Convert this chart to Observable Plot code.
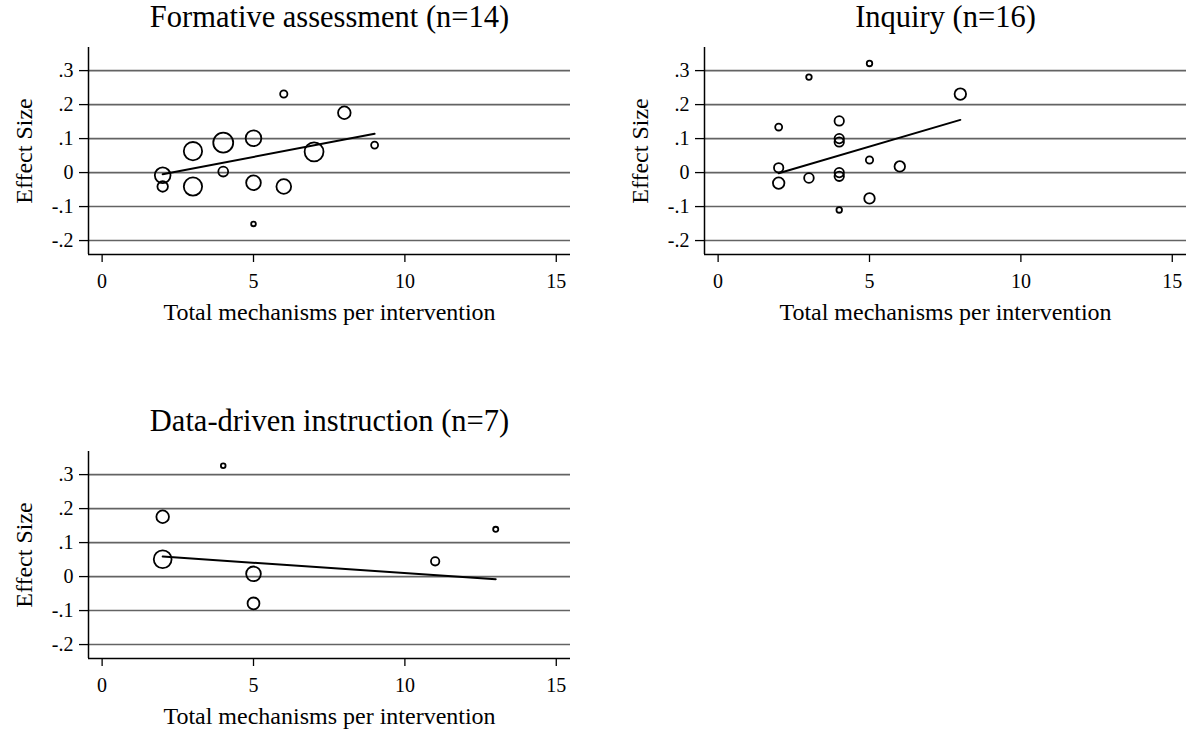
<!DOCTYPE html>
<html><head><meta charset="utf-8">
<script src="https://cdn.jsdelivr.net/npm/d3@7"></script>
<script src="https://cdn.jsdelivr.net/npm/@observablehq/plot@0.6"></script>
<style>
html,body{margin:0;padding:0;background:#fff;}
#root{position:relative;width:1189px;height:729px;overflow:hidden;font-family:"Liberation Serif","Times New Roman",serif;}
.panel{position:absolute;width:590px;height:330px;}
.panel svg{overflow:visible;max-width:none !important;}
</style></head><body><div id="root"></div>
<script>
// Axis ticks and labels
const xTicks = [0, 5, 10, 15];
const yTicks = [-0.2, -0.1, 0, 0.1, 0.2, 0.3];
const yTickLabels = ["-.2", "-.1", "0", ".1", ".2", ".3"];
const xLabel = "Total mechanisms per intervention";
const yLabel = "Effect Size";
const xDomain = [-0.45, 15.47];
const yDomain = [-0.241, 0.368];

// Panel 1: Formative assessment
const faTitle = "Formative assessment (n=14)";
const faX = [2, 2, 3, 3, 4, 4, 5, 5, 5, 6, 6, 7, 8, 9];
const faY = [-0.008, -0.041, 0.063, -0.041, 0.088, 0.003, 0.101, -0.030, -0.151, 0.231, -0.041, 0.061, 0.176, 0.081];
const faW = [56, 25, 76, 76, 90, 22, 56, 49, 5, 12, 49, 81, 36, 11];
const faFitX = [2, 9];
const faFitY = [-0.005, 0.114];

// Panel 2: Inquiry
const inTitle = "Inquiry (n=16)";
const inX = [2, 2, 2, 3, 3, 4, 4, 4, 4, 4, 4, 5, 5, 5, 6, 8];
const inY = [0.134, 0.014, -0.031, 0.281, -0.016, 0.152, 0.100, 0.090, 0.000, -0.011, -0.110, 0.321, 0.037, -0.076, 0.018, 0.231];
const inW = [11, 20, 30, 7, 21, 20, 20, 20, 20, 20, 7, 7, 12, 25, 25, 30];
const inFitX = [2, 8];
const inFitY = [-0.002, 0.155];

// Panel 3: Data-driven instruction
const ddTitle = "Data-driven instruction (n=7)";
const ddX = [2, 2, 4, 5, 5, 11, 13];
const ddY = [0.176, 0.051, 0.326, 0.008, -0.079, 0.045, 0.139];
const ddW = [36, 72, 5, 49, 32, 16, 6];
const ddFitX = [2, 13];
const ddFitY = [0.059, -0.008];

function panel(title, xs, ys, ws, fx, fy) {
  const pts = xs.map((x, i) => ({x, y: ys[i], w: ws[i]}));
  const fit = fx.map((x, i) => ({x, y: fy[i]}));
  return Plot.plot({
    width: 590, height: 330,
    marginLeft: 88, marginRight: 20, marginTop: 47, marginBottom: 76,
    style: {fontFamily: "'Liberation Serif', 'Times New Roman', serif", background: "transparent", color: "#000"},
    x: {domain: xDomain},
    y: {domain: yDomain},
    r: {type: "sqrt", domain: [0, 100], range: [0, 10.5]},
    marks: [
      Plot.gridY(yTicks, {stroke: "#636363", strokeOpacity: 1, strokeWidth: 1.6}),
      Plot.ruleX([xDomain[0]], {stroke: "#000", strokeWidth: 1.5}),
      Plot.ruleY([yDomain[0]], {stroke: "#000", strokeWidth: 1.5}),
      Plot.axisX(xTicks, {tickSize: 8, tickPadding: 11, fontSize: 20, label: null, strokeWidth: 1.3}),
      Plot.axisY(yTicks, {tickSize: 9, tickPadding: 6, fontSize: 20, label: null, strokeWidth: 1.3,
        tickFormat: d => yTickLabels[yTicks.indexOf(d)]}),
      Plot.line(fit, {x: "x", y: "y", stroke: "#000", strokeWidth: 2}),
      Plot.dot(pts, {x: "x", y: "y", r: "w", stroke: "#000", strokeWidth: 1.8, fill: "none"}),
      Plot.text([title], {text: d => d, frameAnchor: "top", textAnchor: "middle", dy: -20.3, lineAnchor: "bottom", fontSize: 30.5, fill: "#000"}),
      Plot.text([xLabel], {text: d => d, frameAnchor: "bottom", textAnchor: "middle", dy: 65, lineAnchor: "bottom", fontSize: 24, fill: "#000"}),
      Plot.text([yLabel], {text: d => d, frameAnchor: "left", textAnchor: "middle", dx: -57, rotate: -90, lineAnchor: "bottom", fontSize: 24, fill: "#000"})
    ]
  });
}

const root = document.getElementById("root");
function place(node, left, top) {
  const div = document.createElement("div");
  div.className = "panel";
  div.style.left = left + "px";
  div.style.top = top + "px";
  div.appendChild(node);
  root.appendChild(div);
}
place(panel(faTitle, faX, faY, faW, faFitX, faFitY), 0, 0);
place(panel(inTitle, inX, inY, inW, inFitX, inFitY), 616, 0);
place(panel(ddTitle, ddX, ddY, ddW, ddFitX, ddFitY), 0, 404);
</script>
</body></html>
